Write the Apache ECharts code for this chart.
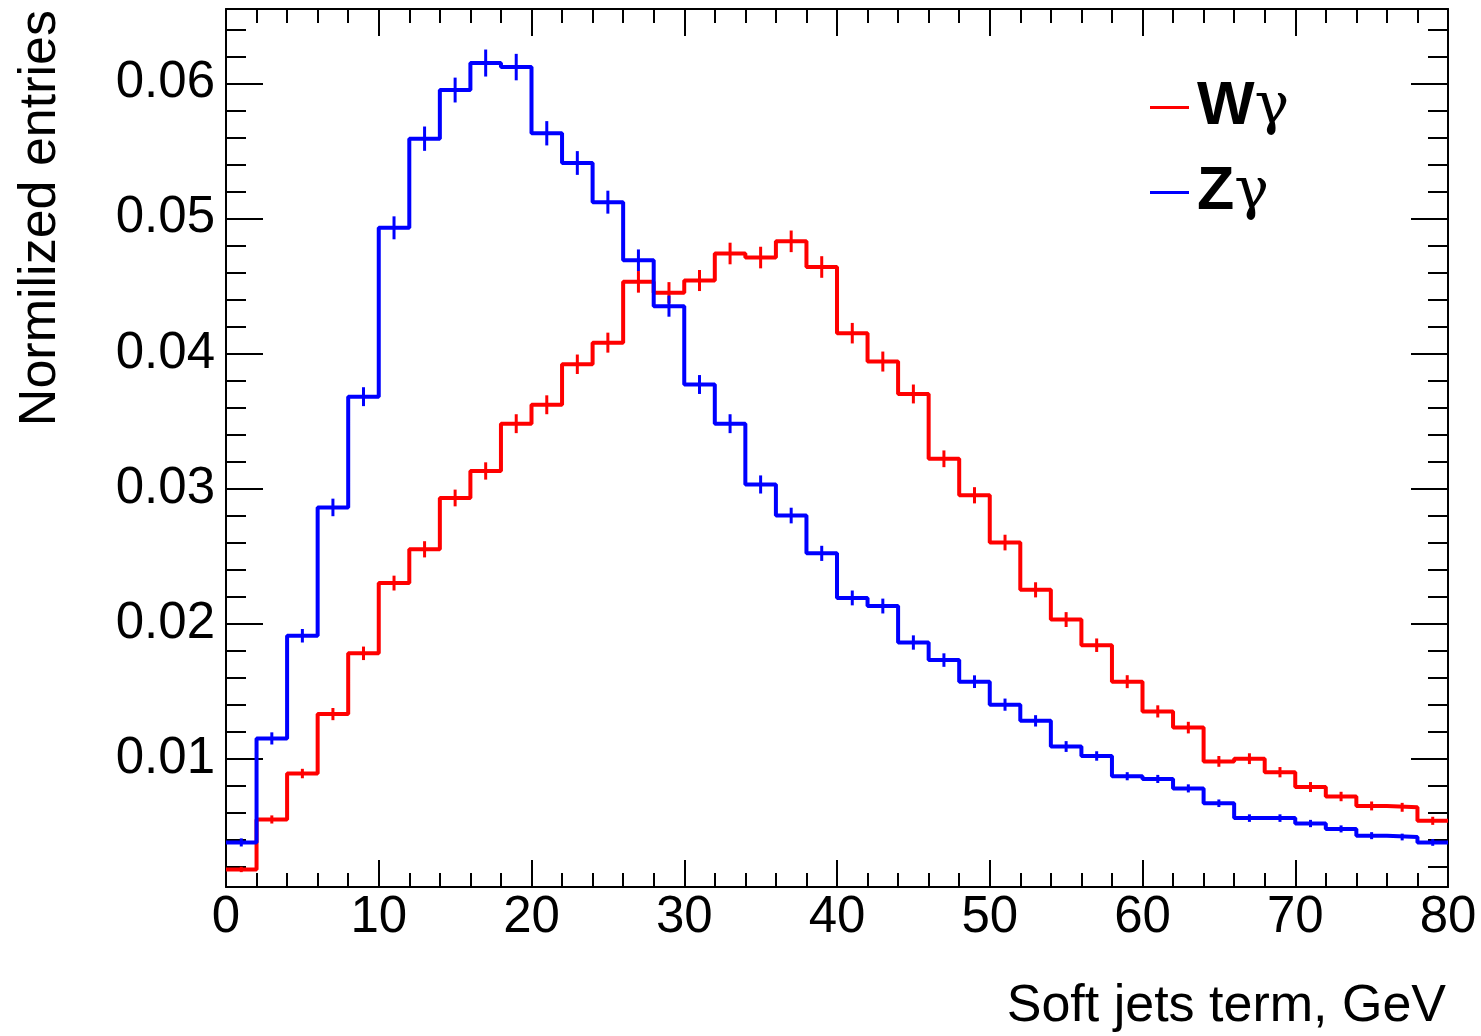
<!DOCTYPE html>
<html>
<head>
<meta charset="utf-8">
<script src="https://cdn.jsdelivr.net/npm/echarts@6/dist/echarts.min.js"></script>
<style>
  html, body { margin: 0; padding: 0; background: #fff; }
  #chart { width: 1481px; height: 1036px; }
</style>
</head>
<body>
<div id="chart"></div>
<script>
// bin edges (GeV), 2 GeV bins from 0 to 80
var binEdges = [0, 2, 4, 6, 8, 10, 12, 14, 16, 18, 20, 22, 24, 26, 28, 30, 32, 34, 36, 38,
  40, 42, 44, 46, 48, 50, 52, 54, 56, 58, 60, 62, 64, 66, 68, 70, 72, 74, 76, 78, 80];

// W gamma, normalized entries per bin
var wgValues = [0.0018, 0.0055, 0.0089, 0.0133, 0.0178, 0.0230, 0.0255, 0.0293, 0.0313, 0.0348,
  0.0362, 0.0392, 0.0408, 0.0453, 0.0445, 0.0454, 0.0474, 0.0471, 0.0483, 0.0464,
  0.0415, 0.0394, 0.0370, 0.0322, 0.0295, 0.0260, 0.0225, 0.0203, 0.0184, 0.0157,
  0.0135, 0.0123, 0.0098, 0.0100, 0.0090, 0.0079, 0.0072, 0.0065, 0.0064, 0.0054];
var wgErrors = [0.0002, 0.0003, 0.00035, 0.00045, 0.0005, 0.00055, 0.0006, 0.00062, 0.00064, 0.0007,
  0.0007, 0.00072, 0.00074, 0.0008, 0.00078, 0.00078, 0.0008, 0.0008, 0.0008, 0.0008,
  0.00076, 0.00074, 0.0007, 0.00062, 0.0006, 0.00058, 0.00056, 0.00055, 0.0005, 0.00048,
  0.00045, 0.00043, 0.0004, 0.0004, 0.00038, 0.00037, 0.00035, 0.00033, 0.00033, 0.0003];

// Z gamma
var zgValues = [0.0038, 0.0115, 0.0191, 0.0286, 0.0368, 0.0493, 0.0559, 0.0595, 0.0615, 0.0612,
  0.0563, 0.0541, 0.0512, 0.0469, 0.0435, 0.0377, 0.0348, 0.0303, 0.0280, 0.0252,
  0.0219, 0.0213, 0.0186, 0.0173, 0.0157, 0.0140, 0.0128, 0.0109, 0.0102, 0.0087,
  0.0085, 0.0078, 0.0067, 0.0056, 0.0056, 0.0052, 0.0048, 0.0043, 0.0042, 0.0038];
var zgErrors = [0.0003, 0.00045, 0.0005, 0.00065, 0.0007, 0.00085, 0.0009, 0.00092, 0.001, 0.00098,
  0.0009, 0.00088, 0.00085, 0.0008, 0.00078, 0.0007, 0.0007, 0.00067, 0.00058, 0.00056,
  0.00055, 0.00055, 0.00053, 0.0005, 0.00047, 0.00045, 0.00042, 0.0004, 0.00035, 0.0003,
  0.0003, 0.0003, 0.00028, 0.00028, 0.00028, 0.00027, 0.00026, 0.00026, 0.00025, 0.00025];

var yMajorTicks = [0.01, 0.02, 0.03, 0.04, 0.05, 0.06];
var yMinorTicks = [0.002, 0.004, 0.006, 0.008, 0.012, 0.014, 0.016, 0.018, 0.022, 0.024, 0.026, 0.028,
  0.032, 0.034, 0.036, 0.038, 0.042, 0.044, 0.046, 0.048, 0.052, 0.054, 0.056, 0.058, 0.062, 0.064];

var FONT = "'Liberation Sans', Arial, Helvetica, sans-serif";
var yMin = 0.0005, yMax = 0.0655;

function stepData(vals) {
  var out = [];
  for (var i = 0; i < vals.length; i++) out.push([binEdges[i], vals[i]]);
  out.push([binEdges[vals.length], vals[vals.length - 1]]);
  return out;
}
function errData(vals, errs) {
  var out = [];
  for (var i = 0; i < vals.length; i++) {
    out.push([(binEdges[i] + binEdges[i + 1]) / 2, vals[i], errs[i]]);
  }
  return out;
}
function errBars(color) {
  return function (params, api) {
    var x = api.value(0), v = api.value(1), e = api.value(2);
    var p1 = api.coord([x, v + e]);
    var p2 = api.coord([x, v - e]);
    return {
      type: 'line',
      shape: { x1: p1[0], y1: p1[1], x2: p2[0], y2: p2[1] },
      style: { stroke: color, lineWidth: 3 }
    };
  };
}

var tickStyle = { color: '#000', width: 2 };

function yAxisDef(pos, ticks, len, withLine, withLabel) {
  return {
    type: 'value', min: yMin, max: yMax, position: pos,
    axisLine: { show: withLine, lineStyle: tickStyle },
    axisTick: { show: true, inside: true, length: len, customValues: ticks, lineStyle: tickStyle },
    axisLabel: withLabel ? {
      show: true, customValues: ticks, fontSize: 51, fontFamily: FONT, color: '#000', margin: 11,
      formatter: function (v) { return v.toFixed(2); }
    } : { show: false },
    splitLine: { show: false }
  };
}
function xAxisDef(pos, withLabel) {
  return {
    type: 'value', min: 0, max: 80, interval: 10, position: pos,
    axisLine: { show: true, onZero: false, lineStyle: tickStyle },
    axisTick: { show: true, inside: true, length: 27, lineStyle: tickStyle },
    minorTick: { show: true, splitNumber: 5, length: 14, lineStyle: tickStyle },
    axisLabel: withLabel ? { show: true, fontSize: 51, fontFamily: FONT, color: '#000', margin: 5 } : { show: false },
    splitLine: { show: false }
  };
}

var chart = echarts.init(document.getElementById('chart'), null, { renderer: 'canvas' });
chart.setOption({
  animation: false,
  backgroundColor: '#fff',
  grid: { left: 226, right: 33, top: 9, bottom: 149 },
  xAxis: [xAxisDef('bottom', true), xAxisDef('top', false)],
  yAxis: [
    yAxisDef('left', yMajorTicks, 37, true, true),
    yAxisDef('left', yMinorTicks, 20, false, false),
    yAxisDef('right', yMajorTicks, 37, true, false),
    yAxisDef('right', yMinorTicks, 20, false, false)
  ],
  legend: {
    orient: 'vertical', left: 1145, top: 72,
    icon: 'rect', itemWidth: 39, itemHeight: 3, itemGap: 24,
    data: ['Wγ', 'Zγ'],
    formatter: function (name) { return '{b|' + name.charAt(0) + '}{g|' + name.slice(1) + '}'; },
    textStyle: {
      lineHeight: 60,
      rich: {
        b: { fontFamily: FONT, fontWeight: 'bold', fontSize: 61, color: '#000', lineHeight: 60, padding: [0, 0, 0, 3] },
        g: { fontFamily: "'DejaVu Serif', 'Liberation Serif', serif", fontSize: 58, color: '#000', lineHeight: 60 }
      }
    }
  },
  graphic: [
    {
      type: 'text', x: 41, y: 10, rotation: Math.PI / 2,
      style: { text: 'Normilized entries', font: '52px ' + FONT, fill: '#000', textAlign: 'right', textVerticalAlign: 'middle' }
    },
    {
      type: 'text', x: 1446, y: 1007,
      style: { text: 'Soft jets term, GeV', font: '52px ' + FONT, fill: '#000', textAlign: 'right', textVerticalAlign: 'middle' }
    }
  ],
  series: [
    {
      name: 'Wγ', type: 'line', step: 'end', showSymbol: false, data: stepData(wgValues),
      color: '#ff0000', lineStyle: { color: '#ff0000', width: 4 }
    },
    {
      name: 'Wγ err', type: 'custom', data: errData(wgValues, wgErrors),
      renderItem: errBars('#ff0000'), encode: { x: 0, y: 1 }
    },
    {
      name: 'Zγ', type: 'line', step: 'end', showSymbol: false, data: stepData(zgValues),
      color: '#0000ff', lineStyle: { color: '#0000ff', width: 4 }
    },
    {
      name: 'Zγ err', type: 'custom', data: errData(zgValues, zgErrors),
      renderItem: errBars('#0000ff'), encode: { x: 0, y: 1 }
    }
  ]
});
</script>
</body>
</html>
